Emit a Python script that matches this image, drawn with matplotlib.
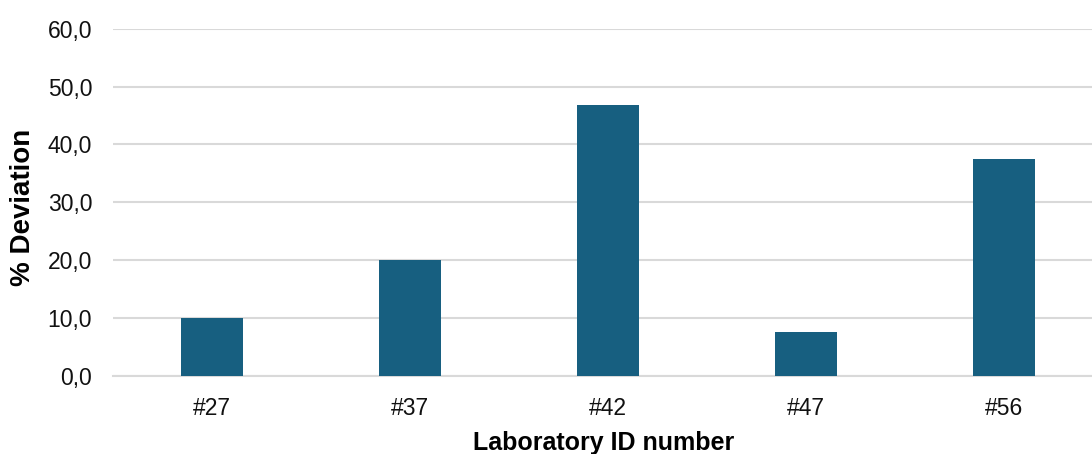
import matplotlib
matplotlib.use("Agg")
import matplotlib.pyplot as plt

labs = ["#27", "#37", "#42", "#47", "#56"]
deviation = [10.0, 20.0, 46.8, 7.6, 37.5]
yticks = [0, 10, 20, 30, 40, 50, 60]

plt.rcParams["font.family"] = ["Liberation Sans", "DejaVu Sans"]

W, H = 1092, 454
fig = plt.figure(figsize=(W / 100, H / 100), dpi=100)
# axes box in pixels: left 113, right edge of figure, y 0 at 375.7, y 60 at 28.7
ax = fig.add_axes([113 / W, (H - 375.7) / H, (W - 113) / W, (375.7 - 28.7) / H])

x = list(range(len(labs)))
ax.bar(x, deviation, width=0.313, color="#175f80", zorder=3)

ax.set_xlim(-0.5, -0.5 + (W - 113) / 198.0)
ax.set_ylim(0, 60)
ax.set_xticks(x)
ax.set_xticklabels(labs)
ax.set_yticks(yticks)
ax.set_yticklabels(["{:.1f}".format(v).replace(".", ",") for v in yticks])

ax.grid(axis="y", color="#d9d9d9", linewidth=1.5, zorder=0)
for s in ["top", "right", "left"]:
    ax.spines[s].set_visible(False)
ax.spines["bottom"].set_color("#d9d9d9")
ax.spines["bottom"].set_linewidth(1.5)
ax.tick_params(axis="both", length=0, labelsize=16.5, colors="#111111")
ax.tick_params(axis="y", pad=15)
ax.tick_params(axis="x", pad=15)

fig.text(603.5 / W, 1 - 443 / H, "Laboratory ID number", ha="center", va="center",
         fontsize=18, fontweight="bold")
fig.text(23 / W, 1 - 207 / H, "% Deviation", ha="center", va="center", rotation=90,
         fontsize=20, fontweight="bold")

fig.savefig("out.png", dpi=100)
